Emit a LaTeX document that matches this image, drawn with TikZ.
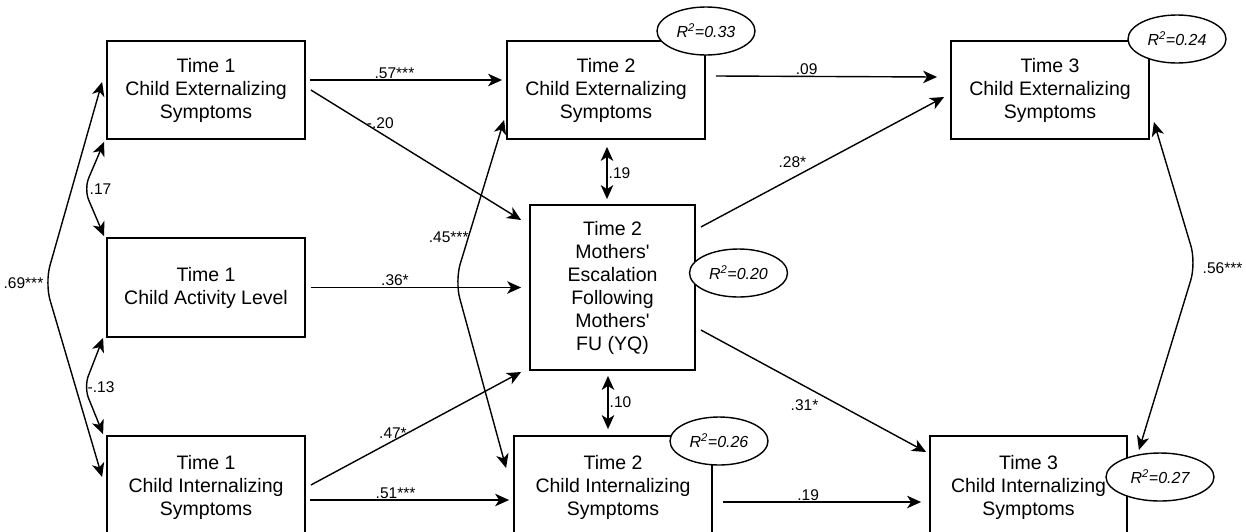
\documentclass[tikz,border=0pt]{standalone}
\usepackage{fontspec}
\setmainfont{Liberation Sans}[Ligatures=TeXOff]
\usetikzlibrary{arrows.meta,shapes.geometric}
\begin{document}
\begin{tikzpicture}[x=1pt,y=-1pt,
  box/.style={draw, line width=1.8pt, align=center, inner sep=0pt, font=\fontsize{19.5}{23}\selectfont},
  rsq/.style={draw, ellipse, fill=white, line width=1.4pt, inner sep=0pt, minimum width=98pt, minimum height=48pt, font=\fontsize{16}{19}\selectfont\itshape},
  lbl/.style={font=\fontsize{15.5}{18}\selectfont, inner sep=1pt},
  tip/.tip={Stealth[length=14pt,width=12.5pt,inset=4pt]},
  arr/.style={line width=1.4pt, -tip},
  dbl/.style={line width=1.4pt, tip-tip},
]
\useasboundingbox (0,0) rectangle (1246,531);
\clip (0,0) rectangle (1246,531);

% boxes
\node[box, minimum width=198pt, minimum height=98pt] (t1e) at (206,90) {Time 1\\Child Externalizing\\Symptoms};
\node[box, minimum width=198pt, minimum height=99pt] (t1a) at (206,287.5) {Time 1\\Child Activity Level};
\node[box, minimum width=198pt, minimum height=102pt] (t1i) at (206,487) {Time 1\\Child Internalizing\\Symptoms};
\node[box, minimum width=198pt, minimum height=98pt] (t2e) at (606,90) {Time 2\\Child Externalizing\\Symptoms};
\node[box, minimum width=165pt, minimum height=165pt] (mo) at (612.5,287.5) {Time 2\\Mothers'\\Escalation\\Following\\Mothers'\\FU (YQ)};
\node[box, minimum width=198pt, minimum height=102pt] (t2i) at (613,487) {Time 2\\Child Internalizing\\Symptoms};
\node[box, minimum width=198pt, minimum height=98pt] (t3e) at (1050,90) {Time 3\\Child Externalizing\\Symptoms};
\node[box, minimum width=197pt, minimum height=102pt] (t3i) at (1028.5,487) {Time 3\\Child Internalizing\\Symptoms};

% straight paths
\draw[arr] ([xshift=4pt,yshift=10pt]t1e.east) -- node[lbl,above,pos=0.44]{.57***} ([xshift=-4pt,yshift=10pt]t2e.west);
\draw[arr] ([xshift=5pt]t1e.east) -- node[lbl,pos=0.33,anchor=south,yshift=3pt]{-.20} ([xshift=-8pt,yshift=67.5pt]mo.west);
\draw[arr] ([xshift=10pt,yshift=14pt]t2e.east) -- node[lbl,above,pos=0.41]{.09} ([xshift=-13pt,yshift=13pt]t3e.west);
\draw[arr] ([xshift=5pt,yshift=60.5pt]mo.east) -- node[lbl,pos=0.44,anchor=south east]{.28*} ([xshift=-6pt,yshift=-7pt]t3e.west);
\draw[arr] ([xshift=5pt]t1a.east) -- node[lbl,above,pos=0.4]{.36*} ([xshift=-8pt]mo.west);
\draw[arr] ([xshift=5pt,yshift=2pt]t1i.east) -- node[lbl,pos=0.4,above,xshift=-2pt]{.47*} ([xshift=-8pt,yshift=-84.5pt]mo.west);
\draw[arr] ([xshift=4pt,yshift=-13pt]t1i.east) -- node[lbl,above,pos=0.43]{.51***} ([xshift=-4pt,yshift=-13pt]t2i.west);
\draw[arr] ([xshift=10pt,yshift=-15pt]t2i.east) -- node[lbl,above,pos=0.43]{.19} ([xshift=-8pt,yshift=-15pt]t3i.west);
\draw[arr] ([xshift=5pt,yshift=-42.5pt]mo.east) -- node[lbl,pos=0.46,anchor=north,yshift=-12pt]{.31*} ([xshift=-3pt,yshift=35pt]t3i.west);

% vertical covariances
\draw[dbl] ([xshift=1pt,yshift=-7pt]t2e.south) -- node[lbl,right]{.19} ([xshift=1pt,yshift=5pt]t2e.south |- mo.north);
\draw[dbl] ([xshift=-4.5pt,yshift=-5pt]mo.south) -- node[lbl,right]{.10} ([xshift=-4.5pt,yshift=6pt]mo.south |- t2i.north);

% curved covariances
\coordinate (c69) at (45,283);
\coordinate (c17) at (84,189);
\coordinate (c13) at (84,387);
\coordinate (c45) at (455,281);
\coordinate (c56) at (1196,263);
\draw[dbl, rounded corners=18pt] ([xshift=-4pt,yshift=8pt]t1e.west) -- (c69) node[lbl,left]{.69***} -- ([xshift=-4pt,yshift=10pt]t1i.west);
\draw[dbl, rounded corners=12pt] ([xshift=-2pt,yshift=-2pt]t1e.south west) -- (c17) node[lbl,right,xshift=4pt]{.17} -- ([xshift=-2pt,yshift=1pt]t1a.north west);
\draw[dbl, rounded corners=12pt] ([xshift=-3pt,yshift=0pt]t1a.south west) -- (c13) node[lbl,right,xshift=2pt]{-.13} -- ([xshift=-3pt,yshift=1pt]t1i.north west);
\draw[dbl, rounded corners=18pt] ([xshift=-2pt,yshift=-30pt]t2e.west) -- node[lbl,pos=0.73,left,xshift=2pt]{.45***} (c45) -- ([xshift=-7pt,yshift=19pt]t2i.west);
\draw[dbl, rounded corners=18pt] ([xshift=4pt,yshift=-32pt]t3e.east) -- (c56) node[lbl,right,xshift=5pt,yshift=-5pt]{.56***} -- ([xshift=11pt,yshift=37pt]t3i.east);

% R^2 ellipses
\node[rsq] (r33) at (706,31) {R\textsuperscript{2}=0.33};
\node[rsq] (r20) at (738.5,273) {R\textsuperscript{2}=0.20};
\node[rsq] (r26) at (719,441) {R\textsuperscript{2}=0.26};
\node[rsq] (r24) at (1177,39) {R\textsuperscript{2}=0.24};
\node[rsq, minimum width=108pt] (r27) at (1160,477) {R\textsuperscript{2}=0.27};
\end{tikzpicture}
\end{document}
